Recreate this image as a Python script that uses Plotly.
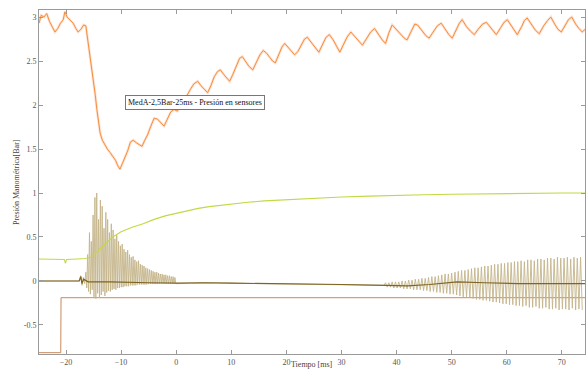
import numpy as np
import plotly.graph_objects as go

# ---- Sensor 1: pressure (orange) ----
p1_t = [-24.9, -24.5, -24.0, -23.5, -23.0, -22.5, -22.0, -21.5, -21.0, -20.5, -20.2, -19.8,
        -19.3, -18.7, -18.2, -17.8, -17.3, -16.8, -16.4, -16.0, -15.6, -15.3, -15.0, -14.7,
        -14.4, -14.1, -13.8, -13.4, -13.0, -12.5, -12.0, -11.5, -11.0, -10.6, -10.2, -9.8,
        -9.3, -8.8, -8.3, -7.8, -7.2, -6.6, -6.2, -5.7, -5.2, -4.6, -4.0, -3.4, -2.8, -2.2,
        -1.6, -1.0, -0.4, 0.2, 0.8, 1.4, 2.0, 2.6, 3.2, 3.9, 4.5, 5.1, 5.7, 6.3, 6.9, 7.5,
        8.0, 8.6, 9.2, 9.7, 10.3, 10.9, 11.5, 12.0, 12.6, 13.2, 13.9, 14.5, 15.2, 15.8, 16.4,
        17.0, 17.5, 18.0, 18.6, 19.2, 19.7, 20.3, 20.9, 21.5, 22.1, 22.7, 23.3, 23.8, 24.5,
        25.2, 25.9, 26.5, 27.2, 27.8, 28.5, 29.1, 29.7, 30.3, 31.0, 31.7, 32.4, 33.1, 33.8,
        34.5, 35.3, 36.0, 36.7, 37.4, 38.0, 38.6, 39.2, 39.9, 40.7, 41.4, 41.9, 42.6, 43.3,
        43.8, 44.6, 45.3, 45.9, 46.6, 47.4, 48.1, 48.8, 49.5, 50.1, 50.8, 51.4, 51.9, 52.7,
        53.4, 54.1, 54.8, 55.6, 56.3, 57.0, 57.6, 58.1, 58.9, 59.5, 60.1, 60.8, 61.4, 61.9,
        62.7, 63.2, 63.7, 64.5, 65.2, 65.9, 66.7, 67.4, 68.0, 68.7, 69.3, 69.9, 70.7, 71.2,
        71.8, 72.5, 73.1, 73.7, 74.2]
p1_v = [2.93, 3.02, 3.00, 3.04, 2.95, 2.88, 2.83, 2.87, 2.93, 2.97, 3.06, 3.00,
        2.97, 2.93, 2.87, 2.83, 2.86, 2.91, 2.90, 2.72, 2.55, 2.42, 2.28, 2.12,
        1.95, 1.80, 1.68, 1.60, 1.55, 1.50, 1.46, 1.42, 1.37, 1.31, 1.27, 1.33,
        1.40, 1.48, 1.58, 1.60, 1.57, 1.55, 1.53, 1.60, 1.66, 1.76, 1.85, 1.84, 1.80, 1.76,
        1.84, 1.92, 1.95, 1.93, 1.98, 2.05, 2.12, 2.18, 2.24, 2.27, 2.22, 2.18, 2.14, 2.22, 2.32, 2.38,
        2.40, 2.35, 2.30, 2.27, 2.35, 2.45, 2.53, 2.55, 2.49, 2.44, 2.40, 2.48, 2.57, 2.62, 2.59,
        2.54, 2.50, 2.48, 2.57, 2.66, 2.70, 2.66, 2.61, 2.57, 2.61, 2.69, 2.75, 2.77, 2.71,
        2.65, 2.60, 2.68, 2.77, 2.80, 2.74, 2.67, 2.60, 2.68, 2.77, 2.83, 2.78, 2.72, 2.68,
        2.75, 2.83, 2.87, 2.80, 2.74, 2.70, 2.82, 2.91, 2.86, 2.80, 2.76, 2.74, 2.84, 2.92,
        2.91, 2.84, 2.79, 2.76, 2.83, 2.90, 2.93, 2.86, 2.80, 2.76, 2.86, 2.93, 2.97, 2.89,
        2.84, 2.80, 2.86, 2.92, 2.94, 2.88, 2.83, 2.80, 2.88, 2.94, 2.97, 2.90, 2.84, 2.80,
        2.89, 2.96, 2.99, 2.91, 2.85, 2.81, 2.90, 2.96, 3.00, 2.92, 2.86, 2.83, 2.91, 2.97,
        3.00, 2.92, 2.87, 2.83, 2.86]

# ---- Sensor 2: slow rise (yellow-green) ----
p2_t = [-24.9, -23.0, -21.0, -20.3, -20.1, -19.9, -18.0, -16.5, -15.5, -14.5, -13.5, -12.5,
        -11.5, -10.0, -8.0, -6.0, -4.0, -2.0, 0.0, 2.0, 4.0, 6.0, 8.0, 10.0, 13.0, 16.0,
        20.0, 25.0, 30.0, 35.0, 40.0, 45.0, 50.0, 55.0, 60.0, 65.0, 70.0, 74.2]
p2_v = [0.25, 0.25, 0.25, 0.245, 0.20, 0.245, 0.25, 0.255, 0.27, 0.33, 0.39, 0.45,
        0.50, 0.56, 0.61, 0.65, 0.70, 0.74, 0.77, 0.80, 0.825, 0.845, 0.86, 0.875, 0.895, 0.91,
        0.925, 0.94, 0.955, 0.965, 0.975, 0.98, 0.985, 0.99, 0.995, 0.995, 1.0, 1.0]

# ---- Sensor 3: baseline near zero (dark olive) ----
p3_t = [-24.9, -22.0, -19.0, -17.6, -17.3, -17.1, -16.8, -16.0, -12.0, -8.0, -5.0, 0.0,
        5.0, 10.0, 20.0, 30.0, 38.0, 42.0, 46.0, 51.0, 56.0, 62.0, 68.0, 74.2]
p3_v = [0.0, 0.0, -0.005, 0.0, 0.05, -0.03, 0.02, -0.01, -0.01, -0.02, -0.02, -0.025,
        -0.02, -0.025, -0.03, -0.04, -0.05, -0.055, -0.04, -0.01, -0.02, -0.03, -0.03, -0.03]

# ---- Sensor 4: oscillating signal (tan) ----
# burst after the valve opening: one peak / trough per 0.33 ms cycle
burst_t0 = -16.4
burst_period = 0.33
burst_hi = [0.10, 0.30, 0.55, 0.45, 0.75, 0.95, 1.00, 0.70, 0.92, 0.85,
            0.60, 0.78, 0.70, 0.55, 0.65, 0.58, 0.48, 0.52, 0.45, 0.40,
            0.42, 0.36, 0.33, 0.35, 0.30, 0.27, 0.28, 0.24, 0.22, 0.23,
            0.19, 0.18, 0.17, 0.15, 0.14, 0.13, 0.12, 0.11, 0.10, 0.10,
            0.09, 0.08, 0.08, 0.07, 0.07, 0.06, 0.06, 0.05, 0.05, 0.04]
burst_lo = [-0.08, -0.12, -0.15, -0.10, -0.18, -0.20, -0.14, -0.19, -0.16, -0.12,
            -0.17, -0.13, -0.11, -0.12, -0.10, -0.09, -0.10, -0.08, -0.08, -0.07,
            -0.07, -0.06, -0.06, -0.06, -0.05, -0.05, -0.05, -0.05, -0.04, -0.04,
            -0.04, -0.04, -0.04, -0.04, -0.035, -0.035, -0.035, -0.035, -0.035, -0.035,
            -0.03, -0.03, -0.03, -0.03, -0.03, -0.03, -0.03, -0.03, -0.03, -0.03]
# quiet stretches
quiet_t = [-24.9, -20.0, -17.6, -17.35, -17.1, -16.85, -16.6]
quiet_v = [0.0, 0.0, 0.0, 0.06, -0.05, 0.04, -0.03]
calm_t = [0.5, 5.0, 10.0, 20.0, 30.0, 37.7]
calm_v = [-0.03, -0.02, -0.025, -0.035, -0.04, -0.05]
# late resonance: one peak / trough per 0.6 ms cycle
late_t0 = 38.0
late_period = 0.6
late_hi = [-0.02, -0.02, -0.01, -0.01, -0.01, 0.00, 0.00, 0.01, 0.01, 0.02,
           0.02, 0.03, 0.03, 0.04, 0.05, 0.05, 0.06, 0.07, 0.08, 0.08,
           0.09, 0.10, 0.11, 0.12, 0.12, 0.13, 0.14, 0.15, 0.15, 0.16,
           0.17, 0.17, 0.18, 0.19, 0.19, 0.20, 0.20, 0.21, 0.21, 0.22,
           0.22, 0.23, 0.22, 0.24, 0.24, 0.23, 0.25, 0.25, 0.24, 0.26,
           0.26, 0.25, 0.27, 0.26, 0.26, 0.27, 0.25, 0.27, 0.26, 0.27]
late_lo = [-0.07, -0.07, -0.08, -0.08, -0.08, -0.09, -0.09, -0.09, -0.10, -0.10,
           -0.10, -0.11, -0.11, -0.12, -0.12, -0.13, -0.13, -0.14, -0.14, -0.15,
           -0.15, -0.16, -0.17, -0.18, -0.18, -0.19, -0.20, -0.21, -0.21, -0.22,
           -0.22, -0.23, -0.24, -0.24, -0.25, -0.26, -0.26, -0.27, -0.27, -0.28,
           -0.28, -0.29, -0.28, -0.30, -0.30, -0.29, -0.31, -0.31, -0.30, -0.32,
           -0.32, -0.31, -0.33, -0.32, -0.32, -0.33, -0.31, -0.33, -0.32, -0.33]

# ---- Sensor 5: step sensor (brown) ----
p5_t = [-24.9, -22.0, -20.95, -20.9, -18.0, -10.0, 0.0, 10.0, 20.0, 30.0, 40.0, 50.0, 60.0, 70.0, 74.2]
p5_v = [-0.815, -0.815, -0.815, -0.19, -0.19, -0.19, -0.195, -0.19, -0.19, -0.195, -0.19, -0.19, -0.195, -0.19, -0.19]

title_text = "MedA-2,5Bar-25ms - Presión en sensores"
x_label = "Tiempo [ms]"
y_label = "Presión Manométrica[Bar]"
x_ticks = [-20, -10, 0, 10, 20, 30, 40, 50, 60, 70]
y_ticks = [-0.5, 0, 0.5, 1, 1.5, 2, 2.5, 3]


def interleave(t0, period, hi, lo):
    """Peak at start of each cycle, trough half a period later."""
    t, v = [], []
    for i, (h, l) in enumerate(zip(hi, lo)):
        t += [t0 + i * period, t0 + (i + 0.5) * period]
        v += [h, l]
    return t, v


bt, bv = interleave(burst_t0, burst_period, burst_hi, burst_lo)
lt, lv = interleave(late_t0, late_period, late_hi, late_lo)
p4_t = quiet_t + bt + calm_t + lt
p4_v = quiet_v + bv + calm_v + lv

SERIF = "Liberation Serif"
fig = go.Figure()

fig.add_trace(go.Scatter(x=p5_t, y=p5_v, mode="lines",
                         line=dict(color="#c98a5c", width=1), showlegend=False))
fig.add_trace(go.Scatter(x=p4_t, y=p4_v, mode="lines",
                         line=dict(color="#c4b48a", width=0.9), showlegend=False))
fig.add_trace(go.Scatter(x=p3_t, y=p3_v, mode="lines",
                         line=dict(color="#7d6524", width=1.2), showlegend=False))
fig.add_trace(go.Scatter(x=p2_t, y=p2_v, mode="lines",
                         line=dict(color="#c3d845", width=1.1), showlegend=False))
# soft halo under the pressure trace for its sensor noise
fig.add_trace(go.Scatter(x=p1_t, y=p1_v, mode="lines",
                         line=dict(color="rgba(250,170,120,0.35)", width=2.6), showlegend=False))
fig.add_trace(go.Scatter(x=p1_t, y=p1_v, mode="lines",
                         line=dict(color="#f5832e", width=0.9), showlegend=False))

axis_common = dict(showline=True, linecolor="#9a9a9a", linewidth=1, mirror="ticks",
                   ticks="inside", ticklen=4, tickcolor="#9a9a9a", showgrid=False,
                   zeroline=False, tickfont=dict(family=SERIF, size=8, color="#555555"))

fig.update_xaxes(range=[-24.9, 74.2], tickvals=x_ticks, **axis_common)
fig.update_yaxes(range=[-0.83, 3.08], tickvals=y_ticks,
                 ticktext=[f"{v:g}" for v in y_ticks], **axis_common)

fig.add_annotation(x=3.5, y=2.03, xref="x", yref="y", text=title_text, showarrow=False,
                   font=dict(family=SERIF, size=8, color="#111111"),
                   bgcolor="white", bordercolor="#777777", borderwidth=1, borderpad=2)
fig.add_annotation(x=0.5, y=-0.0495, xref="paper", yref="paper", text=x_label, showarrow=False,
                   xanchor="center", yanchor="bottom",
                   font=dict(family=SERIF, size=8, color="#444444"))
fig.add_annotation(x=-0.042, y=0.5, xref="paper", yref="paper", text=y_label, showarrow=False,
                   textangle=-90, xanchor="center", yanchor="middle",
                   font=dict(family=SERIF, size=8, color="#444444"))

fig.update_layout(width=586, height=373, margin=dict(l=39, r=1, t=10, b=19),
                  paper_bgcolor="white", plot_bgcolor="white")

fig.write_html("out.html")
